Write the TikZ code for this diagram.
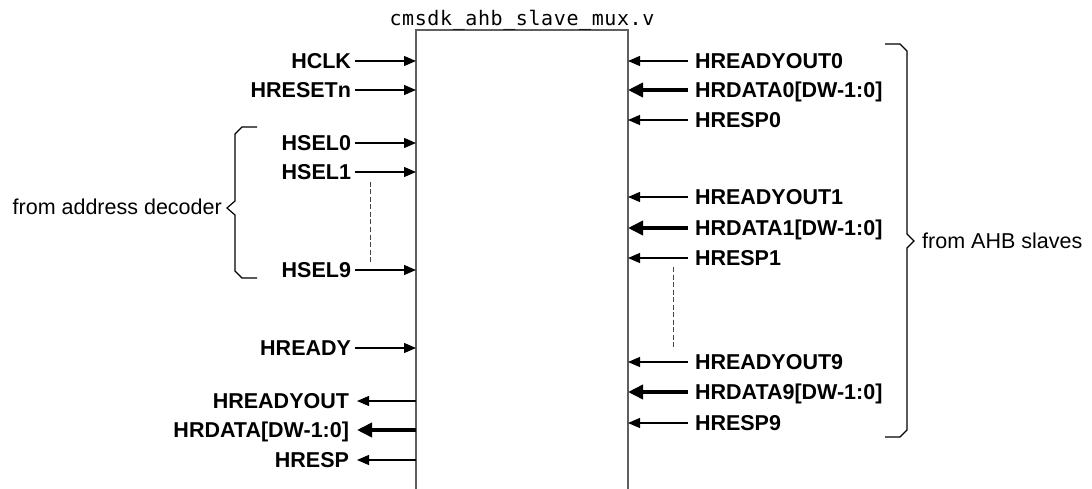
\documentclass[tikz,border=0pt]{standalone}
\usepackage{fontspec}
\setmainfont{Liberation Sans}
\newfontfamily\filefont[LetterSpace=3]{DejaVu Sans Mono}
\usetikzlibrary{arrows.meta}

\definecolor{boxgray}{RGB}{95,95,95}
\definecolor{dashgray}{RGB}{70,70,70}

\tikzset{
  sigin/.style={anchor=east,font=\bfseries\fontsize{21.5}{25}\selectfont,text height=15.4pt,text depth=0pt,inner sep=2pt,outer sep=2pt},
  sigout/.style={anchor=east,font=\bfseries\fontsize{21.5}{25}\selectfont,text height=15.4pt,text depth=0pt,inner sep=4pt,outer sep=4pt},
  sigslv/.style={anchor=west,font=\bfseries\fontsize{21.5}{25}\selectfont,text height=15.4pt,text depth=0pt,inner sep=3pt,outer sep=4pt},
  note/.style={font=\fontsize{21.5}{25}\selectfont,text height=15.4pt,text depth=0pt,inner sep=0pt},
  wire/.style={line width=1.2pt,-{Triangle[length=12pt,width=10pt]}},
  bus/.style={line width=3.6pt,-{Triangle[length=15pt,width=14pt]}},
  modbox/.style={draw=boxgray,line width=1.5pt},
  dots/.style={draw=dashgray,line width=0.9pt,dash pattern={on 5pt off 2.5pt}},
  brace/.style={draw=black,line width=1.2pt,line join=miter}
}

\begin{document}
\begin{tikzpicture}[x=1pt,y=1pt,yscale=-1]
\useasboundingbox (0,0) rectangle (1092,489);

%Shape: Module box (open at the bottom)
\coordinate (boxtl) at (416,30);
\coordinate (boxtr) at (628,30);
\coordinate (boxbl) at (416,489);
\coordinate (boxbr) at (628,489);
\draw [modbox] (boxbl) -- (boxtl) -- (boxtr) -- (boxbr);

% Text Node
\node [anchor=base,inner sep=0pt,font=\filefont\fontsize{20}{22}\selectfont] (fname) at (522,26) {cmsdk\_ahb\_slave\_mux.v};

%--- inputs on the left
% Text Node
\node [sigin] (hclk) at (355,61) {HCLK};
% Text Node
\node [sigin] (hresetn) at (355,90) {HRESETn};
% Text Node
\node [sigin] (hsel0) at (355,143) {HSEL0};
% Text Node
\node [sigin] (hsel1) at (355,172) {HSEL1};
% Text Node
\node [sigin] (hsel9) at (355,270) {HSEL9};
% Text Node
\node [sigin] (hready) at (355,348) {HREADY};

%Straight Lines
\draw [wire] (hclk) -- (hclk -| boxtl);
\draw [wire] (hresetn) -- (hresetn -| boxtl);
\draw [wire] (hsel0) -- (hsel0 -| boxtl);
\draw [wire] (hsel1) -- (hsel1 -| boxtl);
\draw [wire] (hsel9) -- (hsel9 -| boxtl);
\draw [wire] (hready) -- (hready -| boxtl);

%Straight Lines
\coordinate (seltop) at (370,182);
\coordinate (selbot) at (370,262);
\draw [dots] (seltop) -- (selbot);

%--- outputs on the left
% Text Node
\node [sigout] (hreadyout) at (357,401) {HREADYOUT};
% Text Node
\node [sigout] (hrdata) at (357,430) {HRDATA[DW-1:0]};
% Text Node
\node [sigout] (hresp) at (357,460) {HRESP};

%Straight Lines
\draw [wire] (hreadyout -| boxtl) -- (hreadyout);
\draw [bus] (hrdata -| boxtl) -- (hrdata);
\draw [wire] (hresp -| boxtl) -- (hresp);

%--- inputs from the slaves on the right
% Text Node
\node [sigslv] (hrdyout0) at (688,61) {HREADYOUT0};
% Text Node
\node [sigslv] (hrdata0) at (688,90) {HRDATA0[DW-1:0]};
% Text Node
\node [sigslv] (hresp0) at (688,120) {HRESP0};
% Text Node
\node [sigslv] (hrdyout1) at (688,197) {HREADYOUT1};
% Text Node
\node [sigslv] (hrdata1) at (688,228) {HRDATA1[DW-1:0]};
% Text Node
\node [sigslv] (hresp1) at (688,258) {HRESP1};
% Text Node
\node [sigslv] (hrdyout9) at (688,362) {HREADYOUT9};
% Text Node
\node [sigslv] (hrdata9) at (688,392) {HRDATA9[DW-1:0]};
% Text Node
\node [sigslv] (hresp9) at (688,423) {HRESP9};

%Straight Lines
\draw [wire] (hrdyout0) -- (hrdyout0 -| boxtr);
\draw [bus] (hrdata0) -- (hrdata0 -| boxtr);
\draw [wire] (hresp0) -- (hresp0 -| boxtr);
\draw [wire] (hrdyout1) -- (hrdyout1 -| boxtr);
\draw [bus] (hrdata1) -- (hrdata1 -| boxtr);
\draw [wire] (hresp1) -- (hresp1 -| boxtr);
\draw [wire] (hrdyout9) -- (hrdyout9 -| boxtr);
\draw [bus] (hrdata9) -- (hrdata9 -| boxtr);
\draw [wire] (hresp9) -- (hresp9 -| boxtr);

%Straight Lines
\coordinate (slvtop) at (673,267);
\coordinate (slvbot) at (673,347);
\draw [dots] (slvtop) -- (slvbot);

%Shape: Brace (address decoder)
\draw [brace] (257,127) -- (242,127) -- (235,134) -- (235,201) -- (227,208) -- (235,215) -- (235,271) -- (242,278) -- (257,278);
% Text Node
\node [note,anchor=east] (fromdec) at (222,207) {from address decoder};

%Shape: Brace (AHB slaves)
\draw [brace] (885,44) -- (900,44) -- (907,51) -- (907,234) -- (914,241) -- (907,248) -- (907,430) -- (900,437) -- (885,437);
% Text Node
\node [note,anchor=west] (fromslv) at (922,241) {from AHB slaves};

\end{tikzpicture}
\end{document}
